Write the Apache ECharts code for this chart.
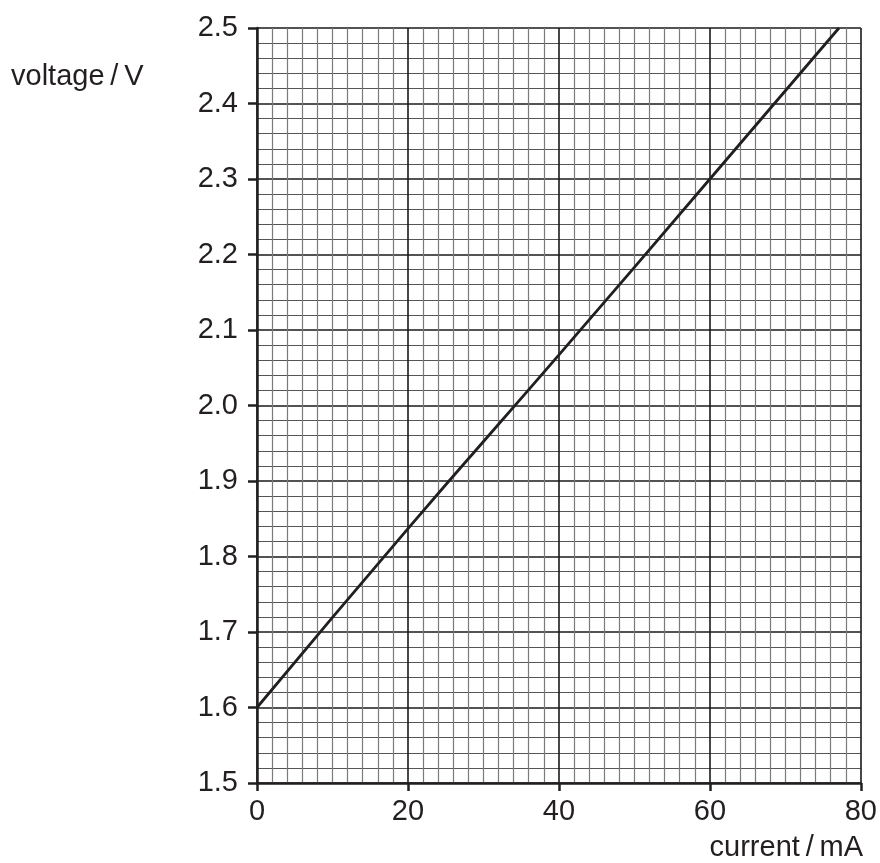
<!DOCTYPE html>
<html>
<head>
<meta charset="utf-8">
<script src="https://cdn.jsdelivr.net/npm/echarts@6/dist/echarts.min.js"></script>
<style>
  html, body { margin: 0; padding: 0; background: #fff; }
  #main { width: 880px; height: 863px; }
</style>
</head>
<body>
<div id="main"></div>
<script>
// readings
var currentMA = [0, 20, 40, 60, 77.1];
var voltageV = [1.6, 1.837, 2.067, 2.3, 2.5];
var xTicks = [0, 20, 40, 60, 80];
var yTicks = [1.5, 1.6, 1.7, 1.8, 1.9, 2.0, 2.1, 2.2, 2.3, 2.4, 2.5];

var ink = "#231f20";
var font = "Liberation Sans, Arial, sans-serif";

var points = currentMA.map(function (c, i) { return [c, voltageV[i]]; });

var option = {
  animation: false,
  backgroundColor: "#fff",
  grid: { left: 257, right: 17, top: 28, bottom: 80 },
  xAxis: {
    type: "value",
    min: xTicks[0],
    max: xTicks[xTicks.length - 1],
    interval: 20,
    axisLine: { show: true, onZero: false, lineStyle: { color: ink, width: 2.5 } },
    axisTick: { show: true, inside: false, length: 8, lineStyle: { color: ink, width: 2.5 } },
    axisLabel: {
      color: ink, fontSize: 29, fontFamily: font, margin: 14,
      formatter: function (v) { return xTicks.indexOf(v) >= 0 ? String(v) : ""; }
    },
    splitLine: { show: true, lineStyle: { color: "#1a1a1a", width: 1.6 } },
    minorTick: { show: false, splitNumber: 10 },
    minorSplitLine: { show: true, lineStyle: { color: "#7a7a7a", width: 1.2 } }
  },
  yAxis: {
    type: "value",
    min: yTicks[0],
    max: yTicks[yTicks.length - 1],
    interval: 0.1,
    axisLine: { show: true, onZero: false, lineStyle: { color: ink, width: 2.5 } },
    axisTick: { show: true, inside: false, length: 9, lineStyle: { color: ink, width: 2.5 } },
    axisLabel: {
      color: ink, fontSize: 29, fontFamily: font, margin: 19,
      formatter: function (v) { return v.toFixed(1); }
    },
    splitLine: { show: true, lineStyle: { color: "#1a1a1a", width: 1.6 } },
    minorTick: { show: false, splitNumber: 5 },
    minorSplitLine: { show: true, lineStyle: { color: "#555", width: 1.2 } }
  },
  graphic: [
    {
      type: "text", x: 11, y: 77,
      style: {
        text: "voltage\u2009/\u2009V", fill: ink, font: "29px " + font,
        textAlign: "left", textVerticalAlign: "middle"
      }
    },
    {
      type: "text", x: 863, y: 848,
      style: {
        text: "current\u2009/\u2009mA", fill: ink, font: "29px " + font,
        textAlign: "right", textVerticalAlign: "middle"
      }
    }
  ],
  series: [
    {
      type: "line",
      data: points,
      showSymbol: false,
      smooth: true,
      lineStyle: { color: ink, width: 2.8 },
      z: 5
    }
  ]
};

var chart = echarts.init(document.getElementById("main"));
chart.setOption(option);
</script>
</body>
</html>
